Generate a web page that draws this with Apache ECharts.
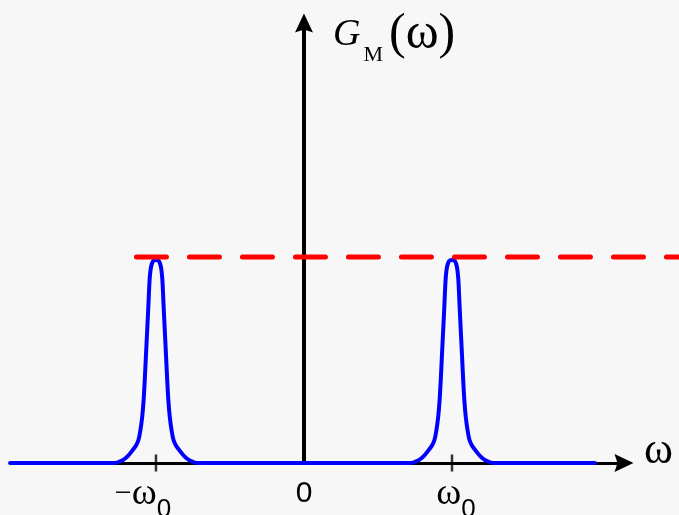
<!DOCTYPE html>
<html>
<head>
<meta charset="utf-8">
<script src="https://cdn.jsdelivr.net/npm/echarts@6/dist/echarts.min.js"></script>
<style>
  html, body { margin: 0; padding: 0; background: #f7f7f7; }
  #chart { width: 679px; height: 515px; }
</style>
</head>
<body>
<div id="chart"></div>
<script>
// Frequency in units of ω0, spectrum height in units of the flat level.
const omegaAxisRange = [-1.797, 2.162];   // extent of the drawn ω axis
const omegaPlotRange = [-2.054, 2.534];   // extent available to the curves
const gRange = [0, 2.136];
const tickValues = [-1, 0, 1];
const tickLabels = ['{mi|−}{w|ω}{subL|0}', '{z|0}', '{wR|ω}{sub|0}'];

// One narrow band, described from its centre outwards (offset, level).
const peakCenters = [-1, 1];
const peakOffset = [0, 0.020, 0.034, 0.043, 0.051, 0.059, 0.068, 0.076, 0.084, 0.093, 0.105, 0.118, 0.135, 0.157, 0.189, 0.223, 0.284];
const peakLevel  = [0.985, 0.98, 0.95, 0.89, 0.77, 0.65, 0.52, 0.40, 0.30, 0.225, 0.16, 0.113, 0.085, 0.063, 0.035, 0.015, 0];
const spectrumEnds = [-1.986, 1.966];

// Flat reference level (dashed).
const flatLevel = 1;
const flatEnds = [-1.132, 2.534];

// Assemble the spectrum: baseline, then each band mirrored about its centre.
const spectrum = [[spectrumEnds[0], 0]];
peakCenters.forEach(function (c) {
  for (let i = peakOffset.length - 1; i > 0; i--) spectrum.push([c - peakOffset[i], peakLevel[i]]);
  spectrum.push([c, peakLevel[0]]);
  for (let i = 1; i < peakOffset.length; i++) spectrum.push([c + peakOffset[i], peakLevel[i]]);
});
spectrum.push([spectrumEnds[1], 0]);

const arrowPath = 'path://M9,0L18,19L9,16L0,19Z';
const serif = 'Liberation Serif';
const sans = 'Liberation Sans';

const chart = echarts.init(document.getElementById('chart'));
chart.setOption({
  animation: false,
  backgroundColor: '#f7f7f7',
  grid: [
    // grid 0 carries the visible axes
    { left: 38, right: 55, top: 23, bottom: 52, outerBoundsMode: 'none', containLabel: false },
    // grid 1 spans the full width with the same scale, for the curves
    { left: 0, right: 0, top: 23, bottom: 52, outerBoundsMode: 'none', containLabel: false }
  ],
  xAxis: [
    {
      gridIndex: 0,
      type: 'value',
      min: omegaAxisRange[0],
      max: omegaAxisRange[1],
      name: 'ω',
      nameLocation: 'end',
      nameGap: 20,
      nameTextStyle: {
        fontFamily: serif, fontSize: 44, color: '#000',
        align: 'left', verticalAlign: 'bottom', lineHeight: 24
      },
      axisLine: {
        onZero: true,
        lineStyle: { color: '#000', width: 3 },
        symbol: ['none', arrowPath],
        symbolSize: [18, 19]
      },
      axisTick: { show: false },
      splitLine: { show: false },
      axisLabel: {
        customValues: tickValues,
        formatter: function (v) { return tickLabels[tickValues.indexOf(v)]; },
        margin: 31,
        verticalAlign: 'middle',
        color: '#000',
        rich: {
          mi: { fontFamily: serif, fontSize: 30, color: '#000' },
          w: { fontFamily: serif, fontSize: 38, color: '#000' },
          wR: { fontFamily: serif, fontSize: 38, color: '#000', padding: [0, 0, 0, 8] },
          z: { fontFamily: sans, fontSize: 30, color: '#000' },
          sub: { fontFamily: sans, fontSize: 26, color: '#000', padding: [32, 0, 0, 0] },
          subL: { fontFamily: sans, fontSize: 26, color: '#000', padding: [32, 26, 0, 0] }
        }
      }
    },
    {
      gridIndex: 1,
      type: 'value',
      min: omegaPlotRange[0],
      max: omegaPlotRange[1],
      show: false
    }
  ],
  yAxis: [
    {
      gridIndex: 0,
      type: 'value',
      min: gRange[0],
      max: gRange[1],
      name: '{g|G}{m|M}{p|(ω)}',
      nameLocation: 'end',
      nameGap: -12,
      nameTextStyle: {
        align: 'left', verticalAlign: 'middle', padding: [0, 0, 0, 29],
        rich: {
          g: { fontFamily: serif, fontStyle: 'italic', fontSize: 38, color: '#000' },
          m: { fontFamily: serif, fontSize: 22, color: '#000', padding: [40, 0, 0, 3] },
          p: { fontFamily: serif, fontSize: 50, color: '#000', padding: [0, 0, 0, 6] }
        }
      },
      axisLine: {
        onZero: true,
        lineStyle: { color: '#000', width: 4 },
        symbol: ['none', arrowPath],
        symbolSize: [18, 19]
      },
      axisTick: { show: false },
      axisLabel: { show: false },
      splitLine: { show: false }
    },
    {
      gridIndex: 1,
      type: 'value',
      min: gRange[0],
      max: gRange[1],
      show: false
    }
  ],
  series: [
    {
      name: 'ticks',
      type: 'scatter',
      xAxisIndex: 0,
      yAxisIndex: 0,
      data: peakCenters.map(function (c) { return [c, 0]; }),
      symbol: 'rect',
      symbolSize: [2.5, 17],
      itemStyle: { color: '#000' },
      silent: true,
      z: 2
    },
    {
      name: 'G_M',
      type: 'line',
      xAxisIndex: 1,
      yAxisIndex: 1,
      data: spectrum,
      showSymbol: false,
      smooth: 0.3,
      lineStyle: { color: '#0000ff', width: 4, cap: 'round', join: 'round' },
      z: 3
    },
    {
      name: 'level',
      type: 'line',
      xAxisIndex: 1,
      yAxisIndex: 1,
      data: [[flatEnds[0], flatLevel], [flatEnds[1], flatLevel]],
      showSymbol: false,
      clip: false,
      lineStyle: { color: '#ff0000', width: 5, type: [30, 23], cap: 'round' },
      z: 4
    }
  ]
});
</script>
</body>
</html>
